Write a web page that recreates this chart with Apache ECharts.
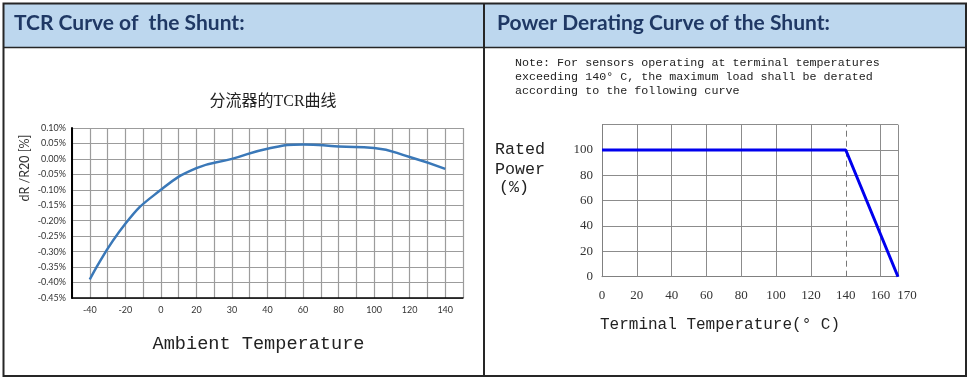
<!DOCTYPE html>
<html>
<head>
<meta charset="utf-8">
<style>
html,body{margin:0;padding:0;background:#fff;}
#c{width:971px;height:384px;}
</style>
<script src="https://cdn.jsdelivr.net/npm/echarts@6/dist/echarts.min.js"></script>
</head>
<body>
<div id="c"></div>
<script>
// ---- Data: TCR curve (left) ----
const tcrCategories = ['-40', '-20', '0', '20', '30', '40', '60', '80', '100', '120', '140'];
const tcrValues = [-0.39, -0.21, -0.10, -0.03, 0.00, 0.033, 0.047, 0.040, 0.035, 0.006, -0.032];
const tcrYMin = -0.45, tcrYMax = 0.10, tcrYStep = 0.05;

// ---- Data: power derating curve (right) ----
const powerTemps = [0, 140, 170];
const powerValues = [100, 100, 0];
const powerXMin = 0, powerXMax = 170, powerXStep = 20;
const powerYMin = 0, powerYMax = 120, powerYStep = 20;
const powerGridX = [20, 40, 60, 80, 100, 120, 160, 170];
const powerDashedX = [140];

// ---- Texts ----
const headerLeft = 'TCR Curve of  the Shunt:';
const headerRight = 'Power Derating Curve of the Shunt:';
const tcrTitle = '分流器的TCR曲线';
const tcrYName = 'dR /R20 [%]';
const tcrXName = 'Ambient Temperature';
const noteLines = [
  'Note: For sensors operating at terminal temperatures',
  'exceeding 140° C, the maximum load shall be derated',
  'according to the following curve'
];
const powerYNameLines = ['Rated', 'Power', '(%)'];
const powerXName = 'Terminal Temperature(° C)';

const tcrData = tcrValues.map((v, i) => [2 * i + 1, v]);
const powerData = powerTemps.map((t, i) => [t, powerValues[i]]);

const MONO = 'Liberation Mono, DejaVu Sans Mono, monospace';
const SERIF = 'Liberation Serif, DejaVu Serif, serif';
const SANS = 'Lato, Liberation Sans, sans-serif';
const gridColorL = '#9c9c9c';
const gridColorR = '#8c8c8c';

const chart = echarts.init(document.getElementById('c'), null, {renderer: 'canvas'});

const option = {
  animation: false,
  backgroundColor: '#fff',
  title: [{
    text: tcrTitle,
    left: 268, top: 89, textAlign: 'center',
    textStyle: {fontFamily: 'Liberation Serif, Noto Sans CJK SC', fontSize: 16, fontWeight: 'normal', color: '#222'}
  }],
  grid: [
    {left: 72, top: 128, width: 391, height: 170, containLabel: false},
    {left: 602, top: 124.7, width: 296, height: 152, containLabel: false}
  ],
  xAxis: [
    {
      type: 'value', gridIndex: 0, min: 0, max: 22, interval: 1,
      axisLine: {show: true, onZero: false, lineStyle: {color: '#000', width: 1.5}},
      axisTick: {show: false},
      axisLabel: {
        fontFamily: SANS, fontSize: 9, color: '#333', margin: 8,
        formatter: v => (v % 2 === 1 ? tcrCategories[(v - 1) / 2] : '')
      },
      splitLine: {show: true, lineStyle: {color: gridColorL, width: 1.2}},
      name: tcrXName, nameLocation: 'middle', nameGap: 37,
      nameTextStyle: {fontFamily: MONO, fontSize: 18.6, color: '#222', padding: [0, 18, 0, 0]}
    },
    {
      type: 'value', gridIndex: 1, min: powerXMin, max: powerXMax, interval: powerXStep,
      axisLine: {show: true, onZero: false, lineStyle: {color: '#808080', width: 1}},
      axisTick: {show: false},
      axisLabel: {
        fontFamily: SERIF, fontSize: 13, color: '#333', margin: 12,
        formatter: v => (v === powerXMax ? '{r|' + v + '}' : String(v)),
        rich: {r: {fontFamily: SERIF, fontSize: 13, color: '#333', padding: [0, 0, 0, 18]}}
      },
      splitLine: {show: false}
    }
  ],
  yAxis: [
    {
      type: 'value', gridIndex: 0, min: tcrYMin, max: tcrYMax, interval: tcrYStep,
      axisLine: {show: true, onZero: false, lineStyle: {color: '#000', width: 2}},
      axisTick: {show: false},
      axisLabel: {
        fontFamily: SANS, fontSize: 9, color: '#333', margin: 6,
        formatter: v => (Math.abs(v) < 1e-9 ? 0 : v).toFixed(2) + '%'
      },
      splitLine: {show: true, lineStyle: {color: gridColorL, width: 1.2}}
    },
    {
      type: 'value', gridIndex: 1, min: powerYMin, max: powerYMax, interval: powerYStep,
      axisLine: {show: true, onZero: false, lineStyle: {color: '#808080', width: 1}},
      axisTick: {show: false},
      axisLabel: {
        fontFamily: SERIF, fontSize: 13, color: '#333', margin: 9,
        formatter: v => (v === powerYMax ? '' : String(v))
      },
      splitLine: {show: true, lineStyle: {color: gridColorR, width: 1}}
    }
  ],
  series: [
    {
      type: 'line', xAxisIndex: 0, yAxisIndex: 0, data: tcrData,
      smooth: true, showSymbol: false, symbol: 'none',
      lineStyle: {color: '#3a78b8', width: 2.5}, z: 5
    },
    {
      type: 'line', xAxisIndex: 1, yAxisIndex: 1, data: [], z: 2,
      markLine: {
        silent: true, symbol: ['none', 'none'], label: {show: false}, animation: false,
        data: powerGridX.map(x => ({xAxis: x, lineStyle: {type: 'solid', color: gridColorR, width: 1}}))
          .concat(powerDashedX.map(x => ({xAxis: x, lineStyle: {type: [6, 4], color: '#777', width: 1}})))
      }
    },
    {
      type: 'line', xAxisIndex: 1, yAxisIndex: 1, data: powerData,
      showSymbol: false, symbol: 'none',
      lineStyle: {color: '#0000ee', width: 3}, z: 6
    }
  ],
  graphic: [
    {type: 'rect', shape: {x: 3, y: 3, width: 481, height: 44}, style: {fill: '#bdd7ee'}, z: 1},
    {type: 'rect', shape: {x: 484, y: 3, width: 482, height: 44}, style: {fill: '#bdd7ee'}, z: 1},
    {type: 'rect', shape: {x: 3.5, y: 3.5, width: 962.5, height: 372.5}, style: {fill: 'none', stroke: '#262626', lineWidth: 2}, z: 10},
    {type: 'line', shape: {x1: 484, y1: 3, x2: 484, y2: 376}, style: {stroke: '#262626', lineWidth: 2}, z: 10},
    {type: 'line', shape: {x1: 3, y1: 47.5, x2: 966, y2: 47.5}, style: {stroke: '#262626', lineWidth: 1.5}, z: 10},
    {type: 'text', x: 14, y: 23, style: {text: headerLeft, fill: '#1f3864', font: 'bold 21px Lato, Open Sans, sans-serif', textVerticalAlign: 'middle'}, z: 11},
    {type: 'text', x: 497, y: 23, style: {text: headerRight, fill: '#1f3864', font: 'bold 21px Lato, Open Sans, sans-serif', textVerticalAlign: 'middle'}, z: 11},
    {type: 'text', x: 25, y: 168, rotation: Math.PI / 2, style: {text: tcrYName, fill: '#333', font: '12.5px ' + SANS, textAlign: 'center', textVerticalAlign: 'middle'}, z: 11},
    {type: 'text', x: 515, y: 63, style: {text: noteLines[0], fill: '#222', font: '11.7px ' + MONO, textVerticalAlign: 'middle'}, z: 11},
    {type: 'text', x: 515, y: 77, style: {text: noteLines[1], fill: '#222', font: '11.7px ' + MONO, textVerticalAlign: 'middle'}, z: 11},
    {type: 'text', x: 515, y: 91, style: {text: noteLines[2], fill: '#222', font: '11.7px ' + MONO, textVerticalAlign: 'middle'}, z: 11},
    {type: 'text', x: 495, y: 150, style: {text: powerYNameLines[0], fill: '#222', font: '16.7px ' + MONO, textVerticalAlign: 'middle'}, z: 11},
    {type: 'text', x: 495, y: 170, style: {text: powerYNameLines[1], fill: '#222', font: '16.7px ' + MONO, textVerticalAlign: 'middle'}, z: 11},
    {type: 'text', x: 499, y: 188, style: {text: powerYNameLines[2], fill: '#222', font: '16.7px ' + MONO, textVerticalAlign: 'middle'}, z: 11},
    {type: 'text', x: 600, y: 325, style: {text: powerXName, fill: '#222', font: '16px ' + MONO, textVerticalAlign: 'middle'}, z: 11}
  ]
};
chart.setOption(option);
</script>
</body>
</html>
